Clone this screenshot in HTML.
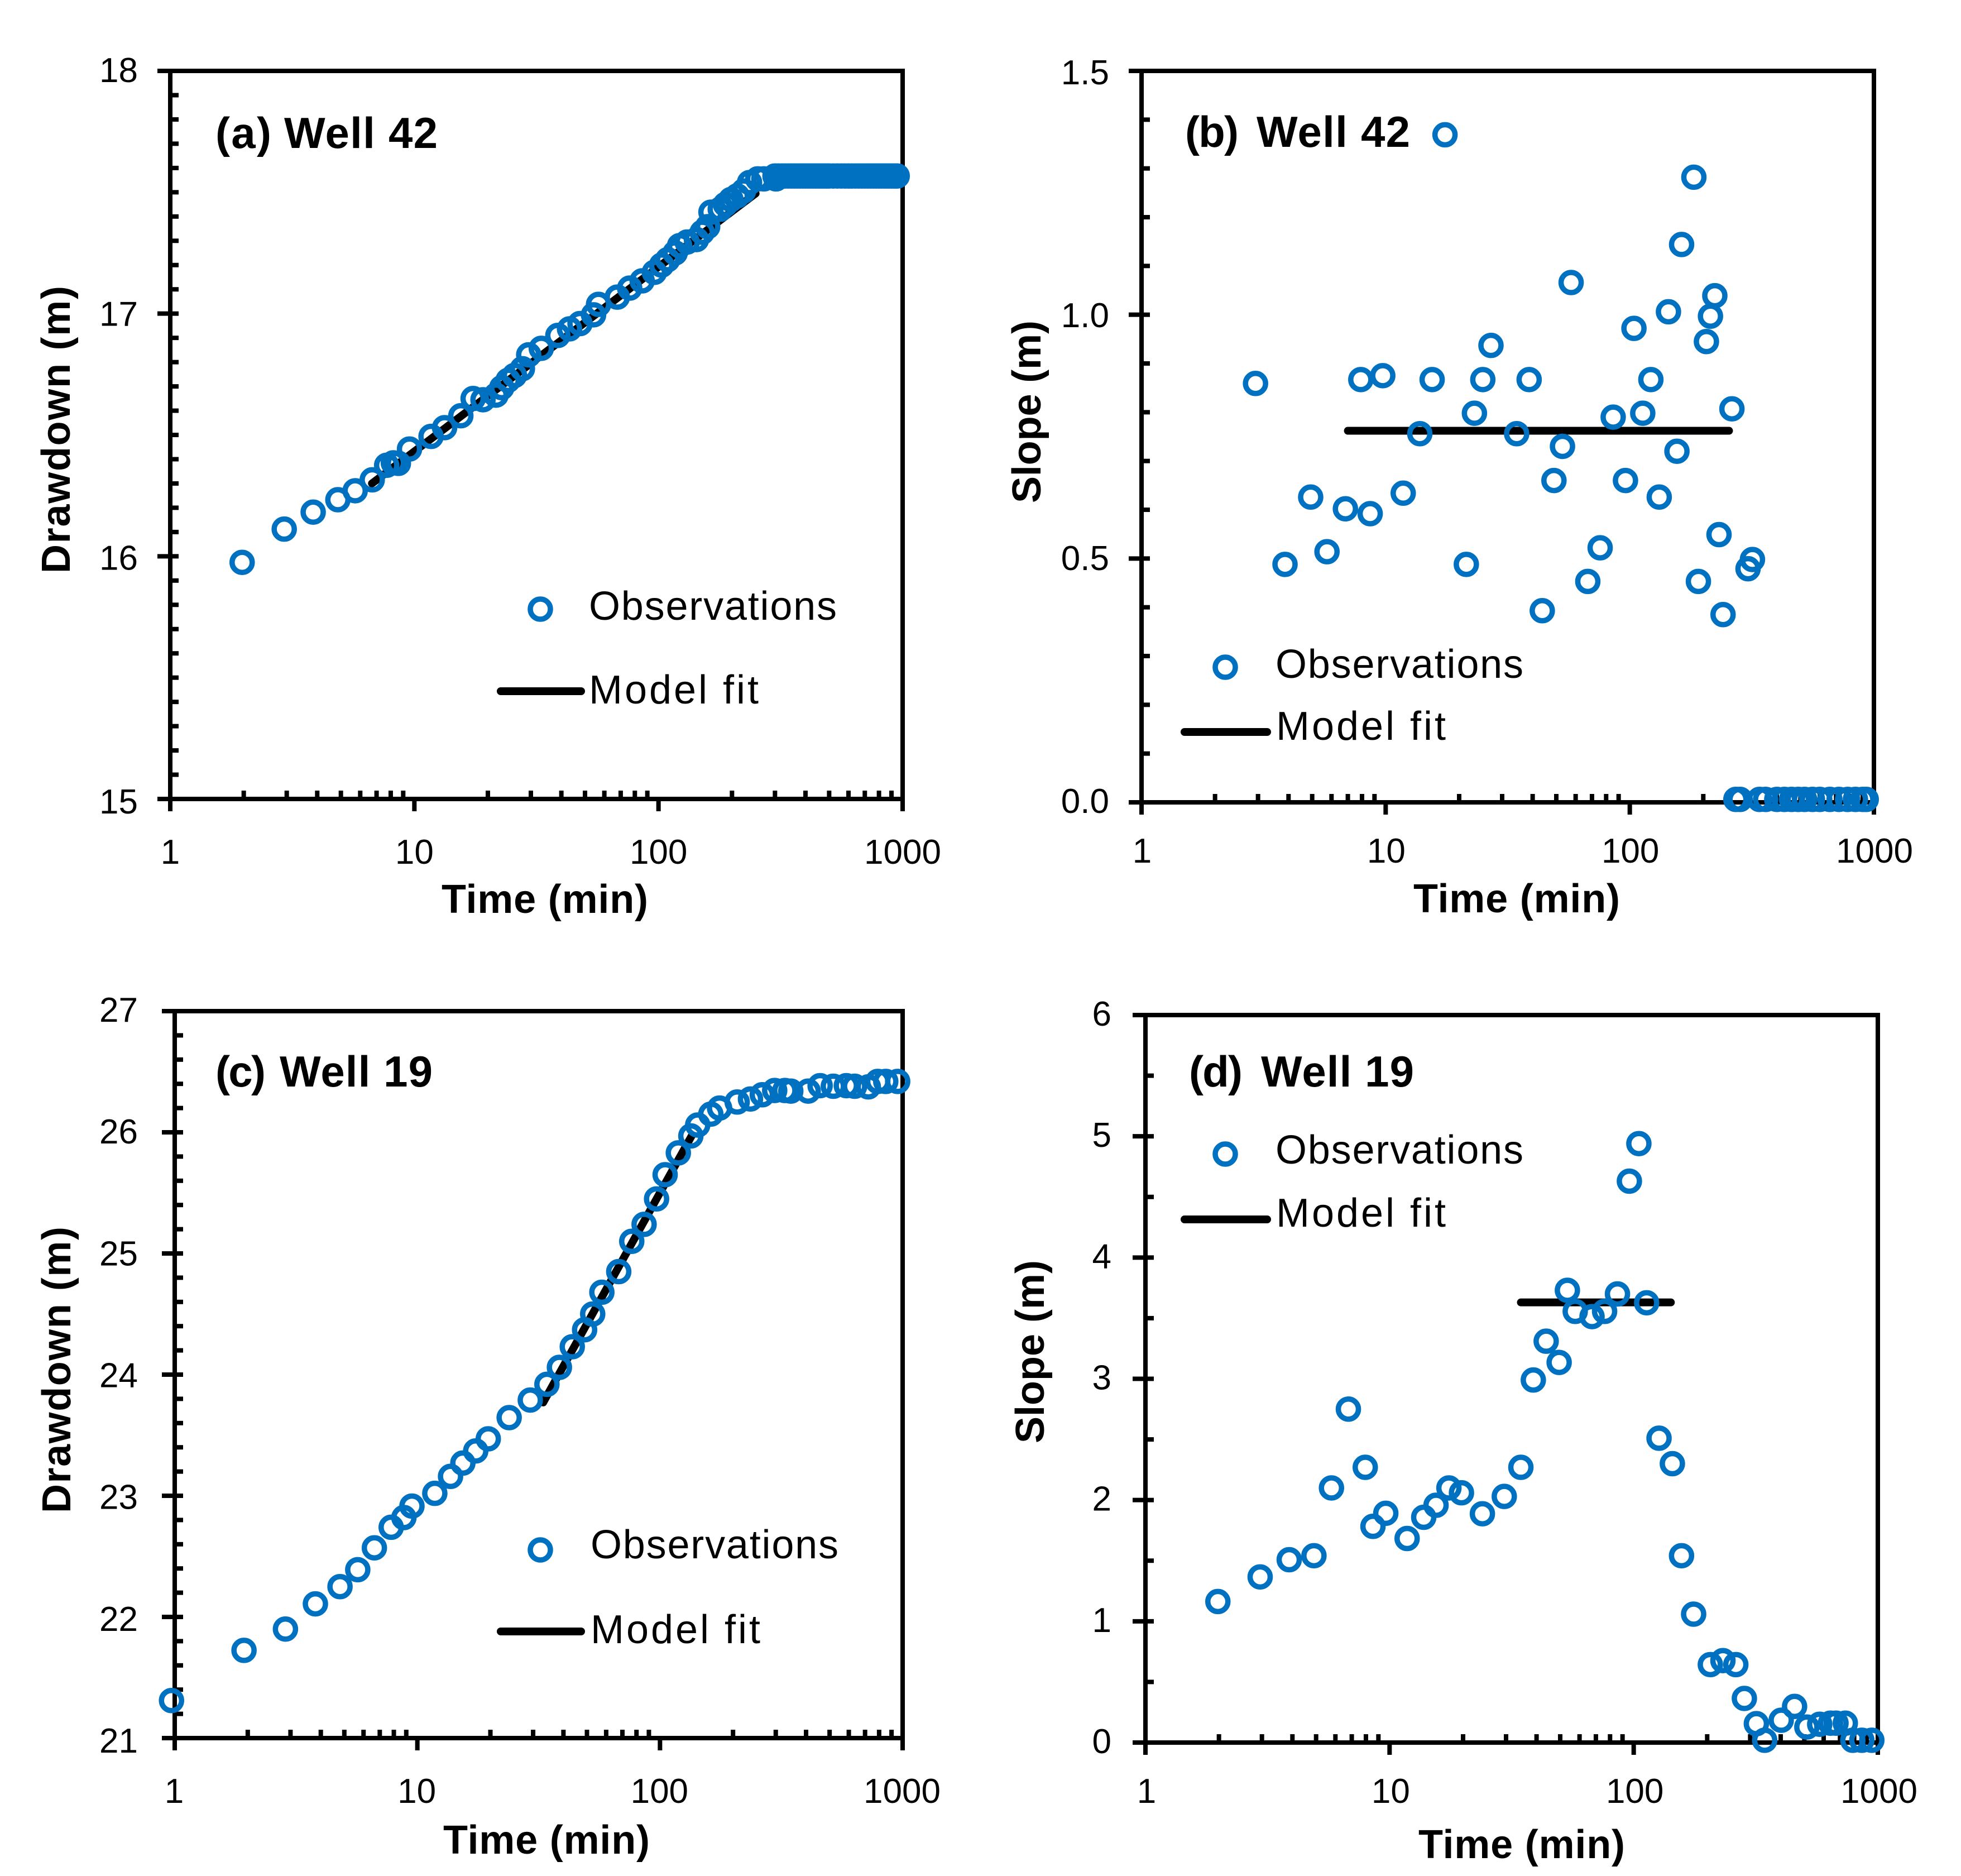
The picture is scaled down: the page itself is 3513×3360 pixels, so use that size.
<!DOCTYPE html>
<html lang="en">
<head>
<meta charset="utf-8">
<title>Drawdown and slope for wells 42 and 19</title>
<style>
html,body{margin:0;padding:0;background:#fff;}
svg{display:block;}
text{font-family:"Liberation Sans",sans-serif;fill:#000;}
.ttl,.axl{font-weight:bold;}
.ttl{font-size:78px;}
.axl{font-size:72px;}
.leg{font-size:72px;}
.tick{font-size:62px;}
</style>
</head>
<body>
<svg id="chart" xmlns="http://www.w3.org/2000/svg" width="3513" height="3360" viewBox="0 0 3513 3360">
<rect x="0" y="0" width="3513" height="3360" fill="#fff"/>

<g id="panel-a"></g>
<g id="panel-b"></g>
<g id="panel-c"></g>
<g id="panel-d"></g>

<!-- Panel titles -->
<text class="ttl" x="386" y="265" textLength="100">(a)</text>
<text class="ttl" x="509" y="265" textLength="275">Well 42</text>
<text class="ttl" x="2123" y="263" textLength="96">(b)</text>
<text class="ttl" x="2251" y="263" textLength="275">Well 42</text>
<text class="ttl" x="386" y="1946" textLength="90">(c)</text>
<text class="ttl" x="501" y="1946" textLength="274">Well 19</text>
<text class="ttl" x="2130" y="1946" textLength="96">(d)</text>
<text class="ttl" x="2259" y="1946" textLength="274">Well 19</text>

<!-- Axis titles -->
<text class="axl" x="791" y="1635" textLength="370">Time (min)</text>
<text class="axl" x="2532" y="1634" textLength="370">Time (min)</text>
<text class="axl" x="794" y="3320" textLength="370">Time (min)</text>
<text class="axl" x="2541" y="3328" textLength="370">Time (min)</text>
<text class="axl" transform="translate(125 1027) rotate(-90)" textLength="515">Drawdown (m)</text>
<text class="axl" transform="translate(1864 901) rotate(-90)" textLength="327">Slope (m)</text>
<text class="axl" transform="translate(126 2710) rotate(-90)" textLength="513">Drawdown (m)</text>
<text class="axl" transform="translate(1870 2585) rotate(-90)" textLength="328">Slope (m)</text>

<!-- Legends -->
<g>
  <circle cx="968" cy="1091" r="18" fill="none" stroke="#0070C0" stroke-width="9.5"/>
  <text class="leg" x="1055" y="1110" textLength="444">Observations</text>
  <line x1="897" y1="1238" x2="1041" y2="1238" stroke="#000" stroke-width="14" stroke-linecap="round"/>
  <text class="leg" x="1055" y="1260" textLength="304">Model fit</text>
</g>
<g>
  <circle cx="2195" cy="1195" r="18" fill="none" stroke="#0070C0" stroke-width="9.5"/>
  <text class="leg" x="2285" y="1214" textLength="444">Observations</text>
  <line x1="2122" y1="1311" x2="2270" y2="1311" stroke="#000" stroke-width="14" stroke-linecap="round"/>
  <text class="leg" x="2286" y="1325" textLength="304">Model fit</text>
</g>
<g>
  <circle cx="968" cy="2776" r="18" fill="none" stroke="#0070C0" stroke-width="9.5"/>
  <text class="leg" x="1058" y="2791" textLength="444">Observations</text>
  <line x1="897" y1="2922" x2="1041" y2="2922" stroke="#000" stroke-width="14" stroke-linecap="round"/>
  <text class="leg" x="1058" y="2943" textLength="304">Model fit</text>
</g>
<g>
  <circle cx="2195" cy="2067" r="18" fill="none" stroke="#0070C0" stroke-width="9.5"/>
  <text class="leg" x="2285" y="2084" textLength="444">Observations</text>
  <line x1="2122" y1="2184" x2="2270" y2="2184" stroke="#000" stroke-width="14" stroke-linecap="round"/>
  <text class="leg" x="2286" y="2197" textLength="304">Model fit</text>
</g>
</svg>

<script>
// ---------- Shared tick labels ----------
const xTickValues = [1, 10, 100, 1000];
const xTickLabels = ["1", "10", "100", "1000"];
const xMinorMultipliers = [2, 3, 4, 5, 6, 7, 8, 9];

const yTicksA = [15, 16, 17, 18];
const yLabelsA = ["15", "16", "17", "18"];
const yTicksB = [0, 0.5, 1, 1.5];
const yLabelsB = ["0.0", "0.5", "1.0", "1.5"];
const yTicksC = [21, 22, 23, 24, 25, 26, 27];
const yLabelsC = ["21", "22", "23", "24", "25", "26", "27"];
const yTicksD = [0, 1, 2, 3, 4, 5, 6];
const yLabelsD = ["0", "1", "2", "3", "4", "5", "6"];

// ---------- Panel (a) Well 42 drawdown ----------
const timeA = [1.97,2.93,3.85,4.86,5.72,6.72,7.7,8.2,8.6,9.55,11.7,13.3,15.5,17.4,19.1,21.6,22.8,24.2,25.7,27.7,29.4,33.1,38.7,43.2,47.7,54.2,56.8,67.8,76.2,85.7,96.2,103,109,117,122,131,143,151,159,164,179,188,198,210,223,236,255,270,303,
  300,310,320,330,340,350,360,370,380,390,400,410,420,430,440,450,460,470,480,490,500,520,540,560,580,600,620,640,660,680,700,720,740,760,780,800,820,840,860,880,900,920,940,950];
const drawdownA = [15.975,16.112,16.182,16.233,16.27,16.315,16.375,16.385,16.383,16.442,16.494,16.53,16.579,16.65,16.645,16.664,16.695,16.725,16.745,16.773,16.83,16.857,16.91,16.937,16.959,16.995,17.038,17.068,17.105,17.135,17.17,17.2,17.222,17.25,17.28,17.295,17.305,17.335,17.358,17.418,17.43,17.45,17.47,17.485,17.505,17.54,17.555,17.555,17.555,
  17.567,17.567,17.567,17.567,17.567,17.567,17.567,17.567,17.567,17.567,17.567,17.567,17.567,17.567,17.567,17.567,17.567,17.567,17.567,17.567,17.567,17.567,17.567,17.567,17.567,17.567,17.567,17.567,17.567,17.567,17.567,17.567,17.567,17.567,17.567,17.567,17.567,17.567,17.567,17.567,17.567,17.567,17.567,17.567];
const modelTimeA = [6.7, 250];
const modelValueA = [16.3, 17.495];

// ---------- Panel (b) Well 42 slope ----------
const timeB = [2.93,3.87,4.93,5.75,6.84,7.91,8.64,9.73,11.8,13.8,15.5,17.5,21.4,23.1,25,27,34.4,38.7,43.8,48.9,53,57.5,67.3,75.6,85.5,96,104,113,122,132,144,156,163,183,191,206,214,223,232,241,262,305,318,
  272,283,340,360,400,430,460,490,520,560,600,660,720,780,840,900,930];
const slopeB = [0.859,0.488,0.626,0.514,0.602,0.867,0.592,0.875,0.634,0.756,0.867,1.369,0.488,0.798,0.867,0.937,0.756,0.867,0.393,0.66,0.73,1.066,0.453,0.522,0.79,0.66,0.972,0.798,0.867,0.626,1.006,0.72,1.144,1.282,0.453,0.945,0.997,1.039,0.549,0.385,0.807,0.479,0.498,
  0.006,0.006,0.006,0.006,0.006,0.006,0.006,0.006,0.006,0.006,0.006,0.006,0.006,0.006,0.006,0.006,0.006];
const modelTimeB = [7, 255];
const modelValueB = [0.762, 0.762];

// ---------- Panel (c) Well 19 drawdown ----------
const timeC = [0.97,1.93,2.86,3.8,4.8,5.68,6.65,7.8,8.8,9.5,11.8,13.7,15.4,17.4,19.6,23.9,29.2,34.2,38.5,43.5,48.9,52.8,57.6,67.6,76.5,86,96.8,105,119,134,143,162,176,208,236,264,297,327,346,408,457,518,586,634,722,790,852,954];
const drawdownC = [21.31,21.724,21.9,22.108,22.25,22.39,22.57,22.74,22.82,22.915,23.02,23.16,23.27,23.37,23.47,23.645,23.79,23.92,24.06,24.23,24.37,24.5,24.68,24.85,25.1,25.24,25.45,25.65,25.83,25.97,26.06,26.15,26.2,26.25,26.275,26.31,26.345,26.345,26.34,26.34,26.385,26.38,26.385,26.38,26.375,26.42,26.42,26.42];
const modelTimeC = [33, 135];
const modelValueC = [23.77, 25.97];

// ---------- Panel (d) Well 19 slope ----------
const timeD = [1.98,2.95,3.88,4.9,5.78,6.78,7.95,8.55,9.65,11.8,13.8,15.5,17.5,19.7,24,29.5,34.5,38.8,43.8,49.5,53.5,57.6,67.5,76,85.8,96,105,113,127,144,157,176,206,232,262,284,318,344,402,456,512,578,640,674,736,790,860,945];
const slopeD = [1.163,1.366,1.508,1.541,2.1,2.75,2.27,1.783,1.891,1.683,1.858,1.957,2.1,2.06,1.887,2.03,2.27,2.99,3.31,3.135,3.73,3.556,3.513,3.556,3.7,4.63,4.94,3.627,2.51,2.3,1.541,1.059,0.643,0.676,0.643,0.364,0.156,0.019,0.184,0.298,0.128,0.151,0.16,0.16,0.16,0.019,0.019,0.019];
const modelTimeD = [34.5, 142];
const modelValueD = [3.63, 3.63];

// ---------- Layout (not data) ----------
const SVG_NS = "http://www.w3.org/2000/svg";
const panelSpecs = [
  {id:"panel-a", box:{l:305, r:1617, t:127, b:1431}, yMin:15, yMax:18, minorStep:0.1, labelRight:247, labelDy:[20,26], xShift:0,
   ticks:yTicksA, labels:yLabelsA, times:timeA, values:drawdownA, mt:modelTimeA, mv:modelValueA},
  {id:"panel-b", box:{l:2045, r:3357, t:127, b:1437}, yMin:0, yMax:1.5, minorStep:0.1, labelRight:1987, labelDy:[24,19], xShift:1,
   ticks:yTicksB, labels:yLabelsB, times:timeB, values:slopeB, mt:modelTimeB, mv:modelValueB},
  {id:"panel-c", box:{l:313, r:1617, t:1811, b:3113}, yMin:21, yMax:27, minorStep:0.2, labelRight:247, labelDy:[19,26], xShift:-1,
   ticks:yTicksC, labels:yLabelsC, times:timeC, values:drawdownC, mt:modelTimeC, mv:modelValueC},
  {id:"panel-d", box:{l:2052, r:3364, t:1818, b:3121}, yMin:0, yMax:6, minorStep:0.5, labelRight:1991, labelDy:[19,19], xShift:2,
   ticks:yTicksD, labels:yLabelsD, times:timeD, values:slopeD, mt:modelTimeD, mv:modelValueD}
];
const xLabelBaselines = {"panel-a":1547, "panel-b":1545, "panel-c":3229, "panel-d":3229};

function makeLine(parent, x1, y1, x2, y2, width, color, cap) {
  const el = document.createElementNS(SVG_NS, "line");
  el.setAttribute("x1", x1);
  el.setAttribute("y1", y1);
  el.setAttribute("x2", x2);
  el.setAttribute("y2", y2);
  el.setAttribute("stroke", color);
  el.setAttribute("stroke-width", width);
  el.setAttribute("stroke-linecap", cap);
  parent.appendChild(el);
  return el;
}

function makeText(parent, x, y, anchor, content) {
  const el = document.createElementNS(SVG_NS, "text");
  el.setAttribute("class", "tick");
  el.setAttribute("x", x);
  el.setAttribute("y", y);
  el.setAttribute("text-anchor", anchor);
  el.textContent = content;
  parent.appendChild(el);
  return el;
}

function drawPanel(spec) {
  const g = document.getElementById(spec.id);
  const b = spec.box;
  const xScale = function (t) { return b.l + (Math.log10(t) / 3) * (b.r - b.l); };
  const yScale = function (v) { return b.b - ((v - spec.yMin) / (spec.yMax - spec.yMin)) * (b.b - b.t); };

  // Plot frame
  const frame = document.createElementNS(SVG_NS, "rect");
  frame.setAttribute("x", b.l);
  frame.setAttribute("y", b.t);
  frame.setAttribute("width", b.r - b.l);
  frame.setAttribute("height", b.b - b.t);
  frame.setAttribute("fill", "none");
  frame.setAttribute("stroke", "#000");
  frame.setAttribute("stroke-width", "8");
  
  
  g.appendChild(frame);

  // X axis major ticks and labels
  xTickValues.forEach(function (t, i) {
    const tick = makeLine(g, xScale(t), b.b, xScale(t), b.b + 22, 8, "#000", "butt");
    
    
    const label = makeText(g, xScale(t) + spec.xShift, xLabelBaselines[spec.id], "middle", xTickLabels[i]);
    
    
    if (i < xTickValues.length - 1) {
      xMinorMultipliers.forEach(function (m) {
        const minor = makeLine(g, xScale(t * m), b.b, xScale(t * m), b.b - 15, 8, "#000", "butt");
        
        
      });
    }
  });

  // Y axis major ticks and labels
  spec.ticks.forEach(function (v, i) {
    const tick = makeLine(g, b.l - 23, yScale(v), b.l, yScale(v), 8, "#000", "butt");
    
    
    const frac = (spec.yMax - v) / (spec.yMax - spec.yMin);
    const dy = spec.labelDy[0] + frac * (spec.labelDy[1] - spec.labelDy[0]);
    const label = makeText(g, spec.labelRight, yScale(v) + dy, "end", spec.labels[i]);
    
    
  });

  // Y axis minor ticks
  const minorCount = Math.round((spec.yMax - spec.yMin) / spec.minorStep);
  for (let k = 1; k < minorCount; k++) {
    const v = spec.yMin + k * spec.minorStep;
    const minor = makeLine(g, b.l, yScale(v), b.l + 15, yScale(v), 8, "#000", "butt");
    
    
  }

  // Model fit line
  const fit = document.createElementNS(SVG_NS, "polyline");
  fit.setAttribute("points", spec.mt.map(function (t, i) { return xScale(t) + "," + yScale(spec.mv[i]); }).join(" "));
  fit.setAttribute("fill", "none");
  fit.setAttribute("stroke", "#000");
  fit.setAttribute("stroke-width", "14");
  fit.setAttribute("stroke-linecap", "round");
  
  
  g.appendChild(fit);

  // Observation markers
  spec.times.forEach(function (t, i) {
    const c = document.createElementNS(SVG_NS, "circle");
    c.setAttribute("cx", xScale(t));
    c.setAttribute("cy", yScale(spec.values[i]));
    c.setAttribute("r", "18");
    c.setAttribute("fill", "none");
    c.setAttribute("stroke", "#0070C0");
    c.setAttribute("stroke-width", "9.5");
    
    
    g.appendChild(c);
  });
}

panelSpecs.forEach(drawPanel);
</script>
</body>
</html>
